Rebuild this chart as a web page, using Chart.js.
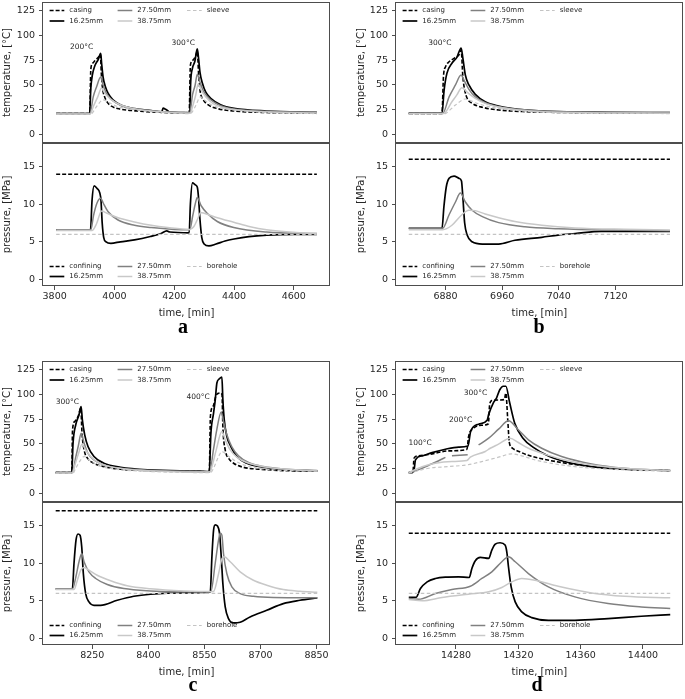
<!DOCTYPE html>
<html>
<head>
<meta charset="utf-8">
<script src="https://cdn.jsdelivr.net/npm/chart.js@4.4.0/dist/chart.umd.min.js"></script>
<style>
  body { margin: 0; background: #fff; }
  #fig { position: relative; width: 685px; height: 699px; overflow: hidden; background: #fff; }
  #fig canvas { position: absolute; }
  .tag { position: absolute; width: 40px; text-align: center; font: bold 20px 'Liberation Serif', serif; line-height: 20px; color: #000; }
</style>
</head>
<body>
<div id="fig">
  <canvas id="aT" width="340" height="143" style="left:0;top:0"></canvas>
  <canvas id="aP" width="340" height="176" style="left:0;top:143px"></canvas>
  <canvas id="bT" width="332" height="143" style="left:353px;top:0"></canvas>
  <canvas id="bP" width="332" height="176" style="left:353px;top:143px"></canvas>
  <canvas id="cT" width="340" height="143" style="left:0;top:359px"></canvas>
  <canvas id="cP" width="340" height="176" style="left:0;top:502px"></canvas>
  <canvas id="dT" width="332" height="143" style="left:353px;top:359px"></canvas>
  <canvas id="dP" width="332" height="176" style="left:353px;top:502px"></canvas>
  <div class="tag" style="left:163px;top:316px">a</div>
  <div class="tag" style="left:519px;top:316px">b</div>
  <div class="tag" style="left:173px;top:674px">c</div>
  <div class="tag" style="left:517px;top:674px">d</div>
</div>
<script>
// ---- tick labels ----
const tempTicks = [0, 25, 50, 75, 100, 125];
const presTicks = [0, 5, 10, 15];
const aTicks = [3800, 4000, 4200, 4400, 4600];
const bTicks = [6880, 6960, 7040, 7120];
const cTicks = [8250, 8400, 8550, 8700, 8850];
const dTicks = [14280, 14320, 14360, 14400];

const tempLabels = ['casing', '16.25mm', '27.50mm', '38.75mm', 'sleeve'];
const presLabels = ['confining', '16.25mm', '27.50mm', '38.75mm', 'borehole'];

// ---- panel a: [time, value] ----
const aTcasing = [[3805,21],[3917,21],[3921,66],[3927,72],[3936,75],[3946,78],[3953,81],[3956,62],[3960,47],[3966,39],[3975,33],[3990,28.5],[4020,25.5],[4070,23.8],[4150,22.3],[4250,21.8],[4254,70],[4262,75],[4271,79],[4277,84],[4282,58],[4287,43],[4296,35.5],[4315,29.5],[4345,26],[4400,23.6],[4500,22.2],[4677,21.5]];
const aT16 = [[3805,21],[3917,21],[3921,47],[3926,60],[3935,70],[3946,76],[3954,82],[3957,72],[3962,58],[3970,48],[3979,41.5],[3995,35],[4023,29.5],[4067,26],[4123,24],[4158,22.8],[4163,26.5],[4170,25.5],[4178,24],[4183,22.5],[4233,22],[4252,21.8],[4255,53],[4261,67],[4269,74],[4277,86.5],[4281,78],[4286,63],[4294,52],[4305,43],[4322,36.5],[4355,30],[4400,26.3],[4510,23.6],[4677,22.3]];
const aT27 = [[3805,21],[3918,21],[3929,38],[3940,48],[3954,58],[3962,50],[3973,41.5],[3990,35],[4023,29],[4067,25.7],[4123,23.6],[4233,22],[4252,21.8],[4261,40],[4270,50],[4277,61],[4286,53],[4299,43],[4322,35],[4355,29],[4400,25.7],[4510,23.3],[4677,22.3]];
const aT38 = [[3805,20.5],[3919,20.5],[3929,28],[3944,38],[3957,47],[3968,41.5],[3990,35],[4023,29.5],[4067,26],[4123,23.6],[4233,21.5],[4253,21.3],[4263,30],[4272,40],[4280,51],[4290,45],[4305,38],[4330,31],[4365,27],[4420,24.5],[4520,22.5],[4677,21.5]];
const aTsleeve = [[3805,20.3],[3920,20.3],[3940,28],[3962,35],[3977,33],[4005,28.7],[4060,25.3],[4120,23],[4200,21.5],[4254,21],[4270,28],[4288,38],[4300,35],[4330,29],[4380,25.5],[4450,23.3],[4550,21.8],[4677,21]];
const aPconf = [[3805,14],[4677,14]];
const aP16 = [[3805,6.6],[3920,6.6],[3925,10.5],[3932,12.45],[3942,12.1],[3951,11.5],[3955,10.5],[3959,7.5],[3964,5.6],[3972,5.0],[3988,4.8],[4020,5.0],[4067,5.25],[4120,5.7],[4156,6.1],[4175,6.45],[4185,6.3],[4250,6.2],[4254,10],[4261,12.85],[4270,12.6],[4277,12.3],[4281,11],[4286,8],[4292,5.6],[4300,4.7],[4316,4.45],[4340,4.7],[4370,5.1],[4400,5.37],[4450,5.7],[4510,5.9],[4600,6.0],[4677,6.0]];
const aP27 = [[3805,6.6],[3921,6.6],[3930,8.5],[3942,10.2],[3954,10.8],[3962,10.2],[3979,9.0],[4012,7.9],[4067,7.2],[4123,6.9],[4200,6.65],[4252,6.6],[4262,8.5],[4270,10],[4277,10.9],[4290,9.8],[4310,8.8],[4344,7.7],[4399,6.9],[4509,6.3],[4677,6.1]];
const aP38 = [[3805,6.5],[3925,6.5],[3940,7.4],[3957,9.1],[3975,8.8],[4012,8.2],[4067,7.65],[4123,7.2],[4178,6.9],[4252,6.65],[4265,7],[4280,8.2],[4288,8.9],[4300,8.8],[4344,8.2],[4399,7.6],[4454,7.0],[4509,6.6],[4620,6.2],[4677,6.1]];
const aPbore = [[3805,6],[4677,6]];
const aNotes = [[3890, 88, '200°C'], [4230, 93, '300°C']];

// ---- panel b ----
const bTcasing = [[6828,21],[6875,21],[6877,58],[6880,68.5],[6885,73.5],[6892,77],[6899,80.5],[6902,85.5],[6904.5,58],[6907,45],[6910.5,36.5],[6917.5,31.4],[6932,27.4],[6955,24.7],[6992,23],[7063,22],[7197,21.5]];
const bT16 = [[6828,21.5],[6875,21.5],[6878,45],[6882,62],[6889,72],[6896,78],[6902,87.5],[6904.5,77],[6908,60],[6913,50],[6922,40.5],[6936,33],[6955,28.7],[6983,25.3],[7025,23.3],[7110,22.3],[7197,22]];
const bT27 = [[6828,21.3],[6876,21.3],[6885,38],[6894,50],[6902,60],[6906,55],[6913,45.6],[6922,38],[6936,32],[6955,28],[6983,25.3],[7025,23.3],[7197,22]];
const bT38 = [[6828,21],[6877,21],[6889,33],[6896,40],[6903,47.3],[6910,43],[6922,36.5],[6936,31.4],[6955,27.7],[6983,24.7],[7025,22.6],[7197,21.3]];
const bTsleeve = [[6828,20.5],[6877,20.5],[6894,29.7],[6908,35.8],[6922,32],[6945,27.4],[6978,24.3],[7025,22.3],[7197,21]];
const bPconf = [[6828,16],[7197,16]];
const bP16 = [[6828,6.8],[6875,6.8],[6877.7,9.7],[6881,12.3],[6885,13.45],[6892,13.76],[6899,13.45],[6902.5,13.1],[6904.4,11],[6907,7.5],[6910.5,5.9],[6917.5,5.0],[6932,4.7],[6955,4.7],[6978,5.2],[7016,5.6],[7039,5.9],[7063,6.1],[7100,6.4],[7197,6.4]];
const bP27 = [[6828,6.8],[6876,6.8],[6885,8.6],[6894,10.3],[6901,11.5],[6908,10.3],[6917.5,9.2],[6932,8.35],[6955,7.55],[6992,7.0],[7039,6.75],[7110,6.57],[7197,6.48]];
const bP38 = [[6828,6.6],[6876,6.6],[6889,7.2],[6903,8.6],[6913,9.2],[6922,9.15],[6936,8.7],[6955,8.2],[6978,7.7],[7016,7.2],[7063,6.85],[7133,6.66],[7197,6.57]];
const bPbore = [[6828,6],[7197,6]];
const bNotes = [[6872, 92, '300°C']];

// ---- panel c ----
const cTcasing = [[8152,21],[8195,21],[8197,64],[8203,72.8],[8212,78],[8219,86.4],[8222.4,61],[8228,44],[8237,35.6],[8254,30.5],[8281,27],[8326,24.4],[8406,23],[8540,22],[8563,21.8],[8566,78],[8573,88],[8582,100],[8592,101.6],[8597,100],[8599.3,67.8],[8605.6,44],[8614.4,35.6],[8628,30.5],[8654,26.4],[8699,24.4],[8761,23],[8852,22.4]];
const cT16 = [[8152,21],[8195,21],[8198.4,50.8],[8205.6,69.5],[8214.4,79.6],[8220,88],[8223.3,74.5],[8229.6,59.3],[8238.4,47.4],[8254.4,37.3],[8281,30.5],[8325.6,26.4],[8405.6,23.7],[8539,22.4],[8563,22],[8567.3,61],[8574.4,81.3],[8579,95],[8583.3,111.8],[8589.6,115.9],[8596.7,117.9],[8599.3,95],[8603,74.5],[8610,57.6],[8620.7,47.4],[8636.7,37.3],[8663.3,30.5],[8707.8,26.4],[8770,23.7],[8852,22.7]];
const cT27 = [[8152,21],[8196,21],[8206,37.3],[8213,49],[8220,61],[8228,50.8],[8238,40.7],[8254,33.9],[8281,28.8],[8326,25.4],[8406,23.4],[8539,22],[8564,21.8],[8574,44],[8583,64.4],[8595,82.3],[8601,72.8],[8610,59.3],[8623,47.4],[8641,38],[8668,31.2],[8708,27.1],[8770,24.4],[8852,23]];
const cT38 = [[8152,20.7],[8197,20.7],[8202,27],[8212,39],[8222.4,49.8],[8232,44],[8245.6,37.3],[8263,31.8],[8290,27.8],[8343,24.4],[8432,22.4],[8565,21.5],[8570,27],[8581.6,44],[8596.7,62.7],[8605.6,54.2],[8619,44],[8636.7,36.6],[8663,31.2],[8708,27],[8770,24.4],[8852,22.7]];
const cTsleeve = [[8152,20.3],[8198,20.3],[8205.6,25.4],[8219,33.9],[8228,37.3],[8241,33.9],[8263,28.8],[8307,24.7],[8388,22.4],[8566,21],[8574.4,25.4],[8587.8,37.3],[8596.7,42.4],[8610,39],[8628,33.9],[8663,27.8],[8716,24.4],[8852,22.4]];
const cPconf = [[8152,17],[8852,17]];
const cP16 = [[8152,6.6],[8196.7,6.6],[8201,10],[8206.4,13.1],[8211.8,13.9],[8217,13.75],[8221.6,12.2],[8226,8.6],[8232.2,5.96],[8241,4.85],[8254.4,4.4],[8272,4.4],[8316.7,5.07],[8361,5.6],[8405.6,5.87],[8494.4,6.05],[8565.6,6.19],[8570,10.86],[8574.4,14.4],[8578.9,15.1],[8585,14.95],[8590.4,14],[8595,10.86],[8599.3,7.3],[8605.6,4.18],[8614.4,2.63],[8627.8,2.05],[8645.6,2.14],[8672,2.85],[8716.7,3.74],[8761,4.63],[8805.6,5.07],[8852,5.39]];
const cP27 = [[8152,6.6],[8197,6.6],[8206,8.2],[8214.4,10.2],[8221.6,11.3],[8227.8,10.2],[8241,8.86],[8259,7.97],[8290,7.17],[8334.4,6.63],[8405.6,6.32],[8494.4,6.19],[8567,6.19],[8578.9,10],[8587.8,13.1],[8592.2,14],[8596.7,13.75],[8601,11.3],[8610,8.6],[8623.3,6.85],[8645.6,5.96],[8681,5.6],[8734,5.43],[8852,5.39]];
const cP38 = [[8152,6.5],[8201,6.5],[8210,7.74],[8219,9.08],[8227.8,9.44],[8241,9.08],[8263,8.4],[8299,7.66],[8343,7.0],[8405.6,6.6],[8494.4,6.32],[8574,6.23],[8587.8,8.6],[8596.7,10.6],[8603,10.86],[8619,10.2],[8645.6,8.86],[8681,7.74],[8716.7,7.08],[8761,6.5],[8805.6,6.28],[8852,6.14]];
const cPbore = [[8152,6],[8852,6]];
const cNotes = [[8183, 93, '300°C'], [8533, 98, '400°C']];

// ---- panel d ----
const dTcasing = [[14249.7,21],[14252.3,21],[14253.1,35.6],[14256,38],[14264.7,40],[14275.3,43],[14287,44.5],[14288.1,57.6],[14291.3,66],[14296.6,69],[14300.8,70.5],[14301.6,90],[14303,94],[14307,94.5],[14311,95],[14312,101.6],[14313.2,75],[14314.2,52],[14316,46],[14320.4,42.4],[14326.5,38.5],[14335,35],[14347.8,31.2],[14367,27.1],[14388.3,24.4],[14417.5,23]];
const dT16 = [[14249.7,21],[14252.9,22],[14254,33.9],[14258.3,38],[14264.7,41.3],[14273.2,44.7],[14281.7,46.8],[14287.7,48],[14289.4,62.7],[14294.5,70],[14300,74],[14301,80],[14303.9,91.5],[14306,96.6],[14308.1,105],[14310.3,108.5],[14312,108.5],[14314.5,91.5],[14317.7,71],[14323,55.9],[14329.4,46.8],[14340,37.3],[14352,31.2],[14367,27.1],[14388.3,24.4],[14417.5,23]];
const dT27 = [[14249.7,21],[14256.1,24],[14262.5,28.5],[14268.9,33],[14273.2,36.5],[14275,null],[14277.4,38],[14287.5,39],[14290,null],[14294.5,49],[14301,55.9],[14307.3,65],[14313.7,73.5],[14320,64.4],[14326.5,54.2],[14335,45.7],[14347.8,37.3],[14367,29.8],[14388.3,25.4],[14417.5,23]];
const dT38 = [[14249.7,21],[14258.3,27],[14266.8,30.5],[14277.4,32.2],[14287,33.2],[14289.2,36.6],[14298.8,42.4],[14302,45.7],[14307.3,49.8],[14314.7,55.9],[14320,51.5],[14326.5,45.7],[14335,40.7],[14347.8,34.6],[14367,28.8],[14388.3,25.4],[14417.5,23]];
const dTsleeve = [[14249.7,20.3],[14262.5,25.4],[14275.3,27.1],[14287,28.8],[14296.6,32.2],[14307.3,36.6],[14315.8,40],[14322.2,38],[14330.7,33.9],[14343.5,29.8],[14360.6,26.4],[14388.3,23.7],[14417.5,22.4]];
const dPconf = [[14249.7,14],[14417.5,14]];
const dP16 = [[14249.7,5.47],[14254.4,5.47],[14257.2,6.63],[14261.5,7.52],[14266.8,7.97],[14273.2,8.15],[14281.7,8.19],[14288.5,8.1],[14290.2,9.3],[14292.4,10.33],[14295.6,10.77],[14301,10.64],[14303,11.75],[14305.2,12.55],[14308.3,12.73],[14311.5,12.42],[14312.6,11.53],[14313.7,9.5],[14315.4,6.85],[14318,4.85],[14322.2,3.52],[14328.6,2.76],[14339.3,2.4],[14356.3,2.4],[14377.6,2.63],[14398.9,2.94],[14417.5,3.16]];
const dP27 = [[14249.7,5.3],[14256,5.2],[14266.8,5.96],[14277.4,6.5],[14289.2,6.94],[14296.6,7.97],[14303,8.86],[14309.4,10.2],[14313.7,10.86],[14318,10.2],[14326.5,8.63],[14339.3,6.85],[14356.3,5.52],[14377.6,4.63],[14398.9,4.18],[14417.5,3.96]];
const dP38 = [[14249.7,5.16],[14258.3,5.0],[14271,5.43],[14288,5.87],[14301,6.19],[14309.4,6.77],[14315.8,7.52],[14322.2,7.97],[14330.7,7.74],[14345.6,6.94],[14367,6.05],[14388.3,5.6],[14417.5,5.39]];
const dPbore = [[14249.7,6],[14417.5,6]];
const dNotes = [[14257, 51, '100°C'], [14283, 74, '200°C'], [14292.5, 101.5, '300°C']];

// ---- styles ----
const TEXT = '#262626';
const SPINE = '#4d4d4d';
const lineStyles = [
  { color: '#000000', dash: [4, 2], width: 1.6 },
  { color: '#000000', dash: [], width: 1.7 },
  { color: '#808080', dash: [], width: 1.5 },
  { color: '#c8c8c8', dash: [], width: 1.5 },
  { color: '#c4c4c4', dash: [3.5, 2.5], width: 1.2 }
];

Chart.defaults.font.family = "'DejaVu Sans', sans-serif";
Chart.defaults.color = TEXT;

function makeSets(labels, seriesList) {
  const n = seriesList.length;
  return seriesList.map((pts, i) => ({
    label: labels[i],
    data: pts.map(p => ({ x: p[0], y: p[1] })),
    borderColor: lineStyles[i].color,
    borderDash: lineStyles[i].dash,
    borderWidth: lineStyles[i].width,
    pointRadius: 0,
    fill: false,
    spanGaps: false,
    cubicInterpolationMode: 'monotone',
    order: n - i
  }));
}

const decor = {
  id: 'decor',
  beforeDatasetsDraw(chart, args, opts) {
    const { ctx, chartArea: ca, scales } = chart;
    ctx.save();
    ctx.fillStyle = TEXT;
    ctx.textBaseline = 'middle';
    ctx.textAlign = 'center';
    ctx.font = "7.5px 'DejaVu Sans'";
    (opts.notes || []).forEach(n => {
      ctx.fillText(n[2], scales.x.getPixelForValue(n[0]), scales.y.getPixelForValue(n[1]));
    });
    const rows = opts.legendAt === 'top' ? [ca.top + 8.5, ca.top + 19] : [ca.bottom - 19.5, ca.bottom - 9.5];
    const cols = [6.6, 74.6, 144];
    ctx.font = "7px 'DejaVu Sans'";
    ctx.textAlign = 'left';
    chart.data.datasets.forEach((ds, i) => {
      const x0 = ca.left + cols[Math.floor(i / 2)];
      const y = rows[i % 2];
      ctx.beginPath();
      ctx.setLineDash(ds.borderDash);
      ctx.strokeStyle = ds.borderColor;
      ctx.lineWidth = ds.borderWidth;
      ctx.moveTo(x0, y);
      ctx.lineTo(x0 + 14.7, y);
      ctx.stroke();
      ctx.setLineDash([]);
      ctx.fillText(ds.label, x0 + 19.7, y);
    });
    ctx.restore();
  },
  afterDatasetsDraw(chart) {
    const { ctx, chartArea: ca } = chart;
    ctx.save();
    ctx.strokeStyle = SPINE;
    ctx.lineWidth = 1;
    const l = Math.round(ca.left) - 0.5, t = Math.round(ca.top) + 0.5;
    const r = Math.round(ca.right) - 0.5, b = Math.round(ca.bottom) - 0.5;
    ctx.strokeRect(l, t, r - l, b - t);
    ctx.restore();
  }
};

function yAxis(range, ticks, title, titlePad) {
  return {
    type: 'linear', min: range[0], max: range[1],
    afterBuildTicks: ax => { ax.ticks = ticks.map(v => ({ value: v })); },
    afterFit: ax => { ax.width = 43; ax.paddingTop = 0; ax.paddingBottom = 0; },
    ticks: { callback: v => String(v), padding: 4, color: TEXT, font: { size: 9.5 } },
    grid: { drawOnChartArea: false, drawTicks: true, tickLength: 4, color: SPINE },
    border: { display: false },
    title: { display: true, text: title, color: TEXT, font: { size: 10 }, padding: { top: titlePad, bottom: 0 } }
  };
}

function xAxis(range, ticks, show) {
  return {
    type: 'linear', min: range[0], max: range[1], display: show,
    afterBuildTicks: ax => { ax.ticks = ticks.map(v => ({ value: v })); },
    afterFit: ax => { ax.height = show ? 33 : 0; ax.paddingLeft = 0; ax.paddingRight = 0; },
    ticks: { callback: v => String(v), padding: 1, maxRotation: 0, autoSkip: false, color: TEXT, font: { size: 9.5 } },
    grid: { drawOnChartArea: false, drawTicks: true, tickLength: 4, color: SPINE },
    border: { display: false },
    title: { display: show, text: 'time, [min]', color: TEXT, font: { size: 10 }, padding: 0 }
  };
}

const TEMP_RANGE = [-8.8, 134.1];
const PRES_RANGE = [-0.89, 18.16];

const panels = [
  { key: 'a', col: 0, xr: [3761, 4721], xt: aTicks, temp: [aTcasing, aT16, aT27, aT38, aTsleeve], pres: [aPconf, aP16, aP27, aP38, aPbore], notes: aNotes },
  { key: 'b', col: 1, xr: [6810, 7215], xt: bTicks, temp: [bTcasing, bT16, bT27, bT38, bTsleeve], pres: [bPconf, bP16, bP27, bP38, bPbore], notes: bNotes },
  { key: 'c', col: 0, xr: [8118, 8886], xt: cTicks, temp: [cTcasing, cT16, cT27, cT38, cTsleeve], pres: [cPconf, cP16, cP27, cP38, cPbore], notes: cNotes },
  { key: 'd', col: 1, xr: [14241.5, 14425.5], xt: dTicks, temp: [dTcasing, dT16, dT27, dT38, dTsleeve], pres: [dPconf, dP16, dP27, dP38, dPbore], notes: dNotes }
];

panels.forEach(p => {
  const padRight = p.col === 0 ? 10 : 2.3;
  const titlePad = p.col === 0 ? 1 : 2.5;

  new Chart(document.getElementById(p.key + 'T'), {
    type: 'line',
    data: { datasets: makeSets(tempLabels, p.temp) },
    options: {
      responsive: false, animation: false, events: [],
      layout: { padding: { top: 2, right: padRight, left: 0, bottom: 0 } },
      plugins: { legend: { display: false }, tooltip: { enabled: false }, decor: { legendAt: 'top', notes: p.notes } },
      scales: { x: xAxis(p.xr, p.xt, false), y: yAxis(TEMP_RANGE, tempTicks, 'temperature, [°C]', titlePad) }
    },
    plugins: [decor]
  });

  new Chart(document.getElementById(p.key + 'P'), {
    type: 'line',
    data: { datasets: makeSets(presLabels, p.pres) },
    options: {
      responsive: false, animation: false, events: [],
      layout: { padding: { top: 0, right: padRight, left: 0, bottom: 0 } },
      plugins: { legend: { display: false }, tooltip: { enabled: false }, decor: { legendAt: 'bottom', notes: [] } },
      scales: { x: xAxis(p.xr, p.xt, true), y: yAxis(PRES_RANGE, presTicks, 'pressure, [MPa]', titlePad) }
    },
    plugins: [decor]
  });
});
</script>
</body>
</html>
